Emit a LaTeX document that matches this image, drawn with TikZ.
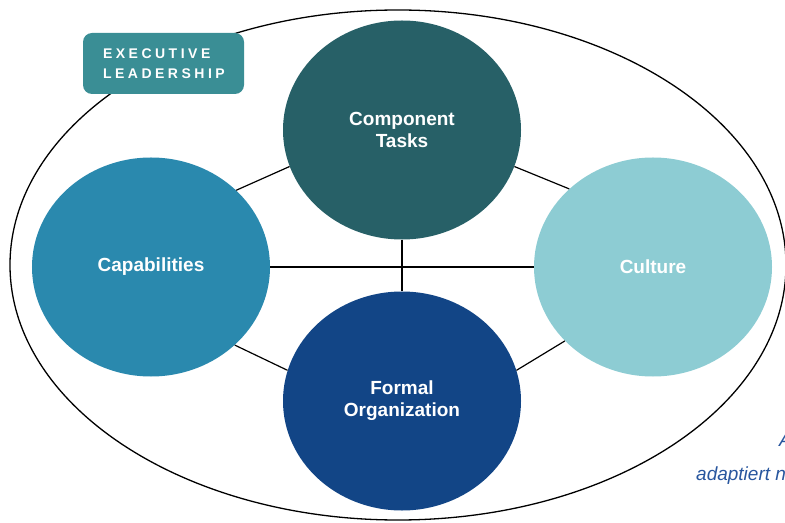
\documentclass[tikz,border=0pt]{standalone}
\usepackage{fontspec}
\setmainfont{Liberation Sans}
\usetikzlibrary{shapes.geometric}

\definecolor{tasksfill}{RGB}{39,96,103}
\definecolor{capfill}{RGB}{42,137,174}
\definecolor{culturefill}{RGB}{141,204,211}
\definecolor{formalfill}{RGB}{18,69,134}
\definecolor{execfill}{RGB}{58,142,149}
\definecolor{notecolor}{RGB}{40,86,158}

\begin{document}
\begin{tikzpicture}[x=1bp,y=-1bp,
  part/.style={ellipse, minimum width=238bp, minimum height=219bp, inner sep=0pt,
    text=white, align=center, font=\fontsize{19bp}{22bp}\selectfont\bfseries},
  link/.style={draw=black, line width=1.2bp},
  tag/.style={rectangle, rounded corners=9bp, fill=execfill, text=white,
    minimum width=161bp, minimum height=61bp, inner xsep=20bp, inner ysep=0pt,
    text width=121bp, align=left,
    font=\fontsize{14bp}{20bp}\selectfont\bfseries\addfontfeature{LetterSpace=25}},
  note/.style={anchor=base west, inner sep=0pt, text=notecolor,
    font=\fontsize{19bp}{22bp}\selectfont\itshape}]
\path[use as bounding box, clip] (0,0) rectangle (785,523);

% enclosing boundary
\draw[line width=1.3bp] (398,265) ellipse [x radius=388, y radius=255];

% the four parts of the organization
\node[part, fill=tasksfill]   (tasks)   at (402,130) {Component\\Tasks};
\node[part, fill=capfill]     (cap)     at (151,267) {Capabilities};
\node[part, fill=culturefill] (culture) at (653,267) {Culture};
\node[part, fill=formalfill]  (formal)  at (402,401) {Formal\\Organization};

% links between the parts
\draw[link] (cap.east) -- (culture.west);
\draw[link] (tasks.south) -- (formal.north);
\draw[link] (cap.42) -- (tasks.198);
\draw[link] (tasks.342) -- (culture.137);
\draw[link] (cap.317) -- (formal.165);
\draw[link] (formal.15) -- (culture.220);

% leadership tag
\node[tag] (lead) at (163.5,63.5) {EXECUTIVE\\LEADERSHIP};

% source note
\node[note] (fig) at (779,446) {A};
\node[note] (src) at (696,480) {adaptiert n};
\end{tikzpicture}
\end{document}
